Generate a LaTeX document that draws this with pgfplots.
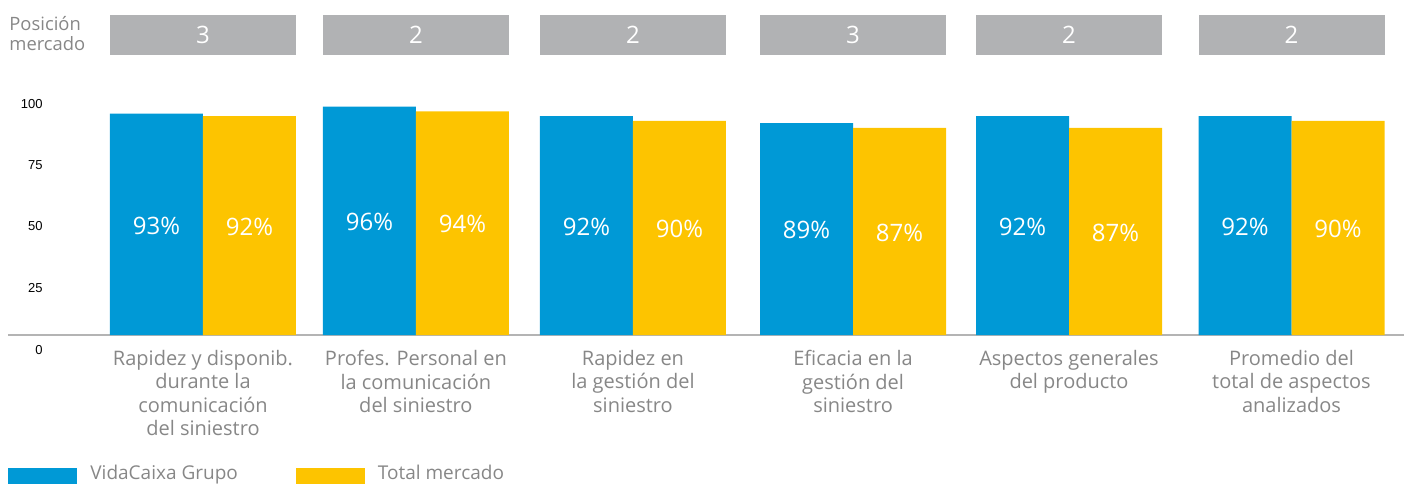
\documentclass[border=0pt]{standalone}
\usepackage{fontspec}
\setmainfont{Open Sans}
\newfontfamily\tickfont{Liberation Sans}
\usepackage{pgfplots}
\pgfplotsset{compat=1.18}
\definecolor{vcblue}{HTML}{0099D6}
\definecolor{mkyellow}{HTML}{FDC400}
\definecolor{boxgray}{HTML}{B1B2B4}
\definecolor{txtgray}{HTML}{878787}
\definecolor{basegray}{HTML}{B4B4B4}

\begin{document}
\begin{tikzpicture}
\useasboundingbox (0,0) rectangle (702pt,241.5pt);
% etiqueta de la fila de posiciones
\node[anchor=base west, inner sep=0pt, text=txtgray, font=\fontsize{9.2}{10}\selectfont] at (4.5pt,226.15pt) {Posición};
\node[anchor=base west, inner sep=0pt, text=txtgray, font=\fontsize{9.2}{10}\selectfont] at (4.5pt,216.15pt) {mercado};
\begin{axis}[
    at={(4pt,66.5pt)}, anchor=south west,
    scale only axis, width=698pt, height=126.5pt,
    xmin=-0.8957, xmax=5.5168,
    ymin=-6.3, ymax=100,
    clip=false,
    axis line style={draw=none},
    major tick length=0pt,
    xtick={0,0.978,1.975,2.986,3.978,5},
    xticklabels={
        {Rapidez y disponib.\\durante la\\comunicación\\del siniestro},
        {Profes. Personal en\\la comunicación\\del siniestro},
        {Rapidez en\\la gestión del\\siniestro},
        {Eficacia en la\\gestión del\\siniestro},
        {Aspectos generales\\del producto},
        {Promedio del\\total de aspectos\\analizados}},
    xticklabel style={align=center, text=txtgray, inner sep=0pt, anchor=north,
        font=\fontsize{10}{11.65}\selectfont},
    ytick={-6.3,19.75,45.8,71.43,97.06},
    yticklabels={0,25,50,75,100},
    yticklabel style={anchor=east, inner sep=0pt, xshift=17.5pt,
        font=\tickfont\fontsize{6.5}{7}\selectfont},
    extra y ticks={0}, extra y tick labels={},
    extra y tick style={grid=major, major grid style={draw=basegray, line width=0.75pt}},
    legend columns=2,
    legend style={at={(axis description cs:0,0)}, anchor=north west, yshift=-57.5pt,
        draw=none, fill=none, inner sep=0pt,
        font=\fontsize{9.5}{12}\selectfont, text=txtgray,
        nodes={inner sep=0pt},
        /tikz/every odd column/.append style={column sep=6.5pt},
        /tikz/every even column/.append style={column sep=29pt}},
    legend cell align=left,
]
    \addplot[ybar, bar width=0.4272, bar shift=-0.2136, fill=vcblue, draw=none,
        legend image code/.code={\fill[vcblue] (0pt,-7pt) rectangle (34.5pt,3pt);}]
        coordinates {(0,93) (0.978,96) (1.975,92) (2.986,89) (3.978,92) (5,92)};
    \addlegendentry{VidaCaixa Grupo}
    \addplot[ybar, bar width=0.4272, bar shift=0.2136, fill=mkyellow, draw=none,
        legend image code/.code={\fill[mkyellow] (0pt,-7pt) rectangle (34.5pt,3pt);}]
        coordinates {(0,92) (0.978,94) (1.975,90) (2.986,87) (3.978,87) (5,90)};
    \addlegendentry{Total mercado}

    % porcentajes dentro de las barras
    \addplot[draw=none, forget plot, point meta=explicit symbolic,
        nodes near coords={\pgfplotspointmeta\%},
        every node near coord/.append style={anchor=center, text=white,
            font=\fontsize{12}{14}\selectfont}]
        coordinates {(-0.2136,46)[93] (0.7644,47.5)[96] (1.7614,45.5)[92]
                     (2.7724,44)[89] (3.7644,45.5)[92] (4.7864,45.5)[92]};
    \addplot[draw=none, forget plot, point meta=explicit symbolic,
        nodes near coords={\pgfplotspointmeta\%},
        every node near coord/.append style={anchor=center, text=white,
            font=\fontsize{12}{14}\selectfont}]
        coordinates {(0.2136,45.5)[92] (1.1916,46.5)[94] (2.1886,44.5)[90]
                     (3.1996,43)[87] (4.1916,43)[87] (5.2136,44.5)[90]};

    % posicion de mercado
    \addplot[draw=none, forget plot, point meta=explicit symbolic,
        nodes near coords,
        every node near coord/.append style={anchor=center, fill=boxgray, text=white,
            minimum width=93pt, minimum height=20pt, inner sep=0pt,
            font=\fontsize{12}{14}\selectfont}]
        coordinates {(0,126.05)[3] (0.978,126.05)[2] (1.975,126.05)[2]
                     (2.986,126.05)[3] (3.978,126.05)[2] (5,126.05)[2]};
\end{axis}
\end{tikzpicture}
\end{document}
